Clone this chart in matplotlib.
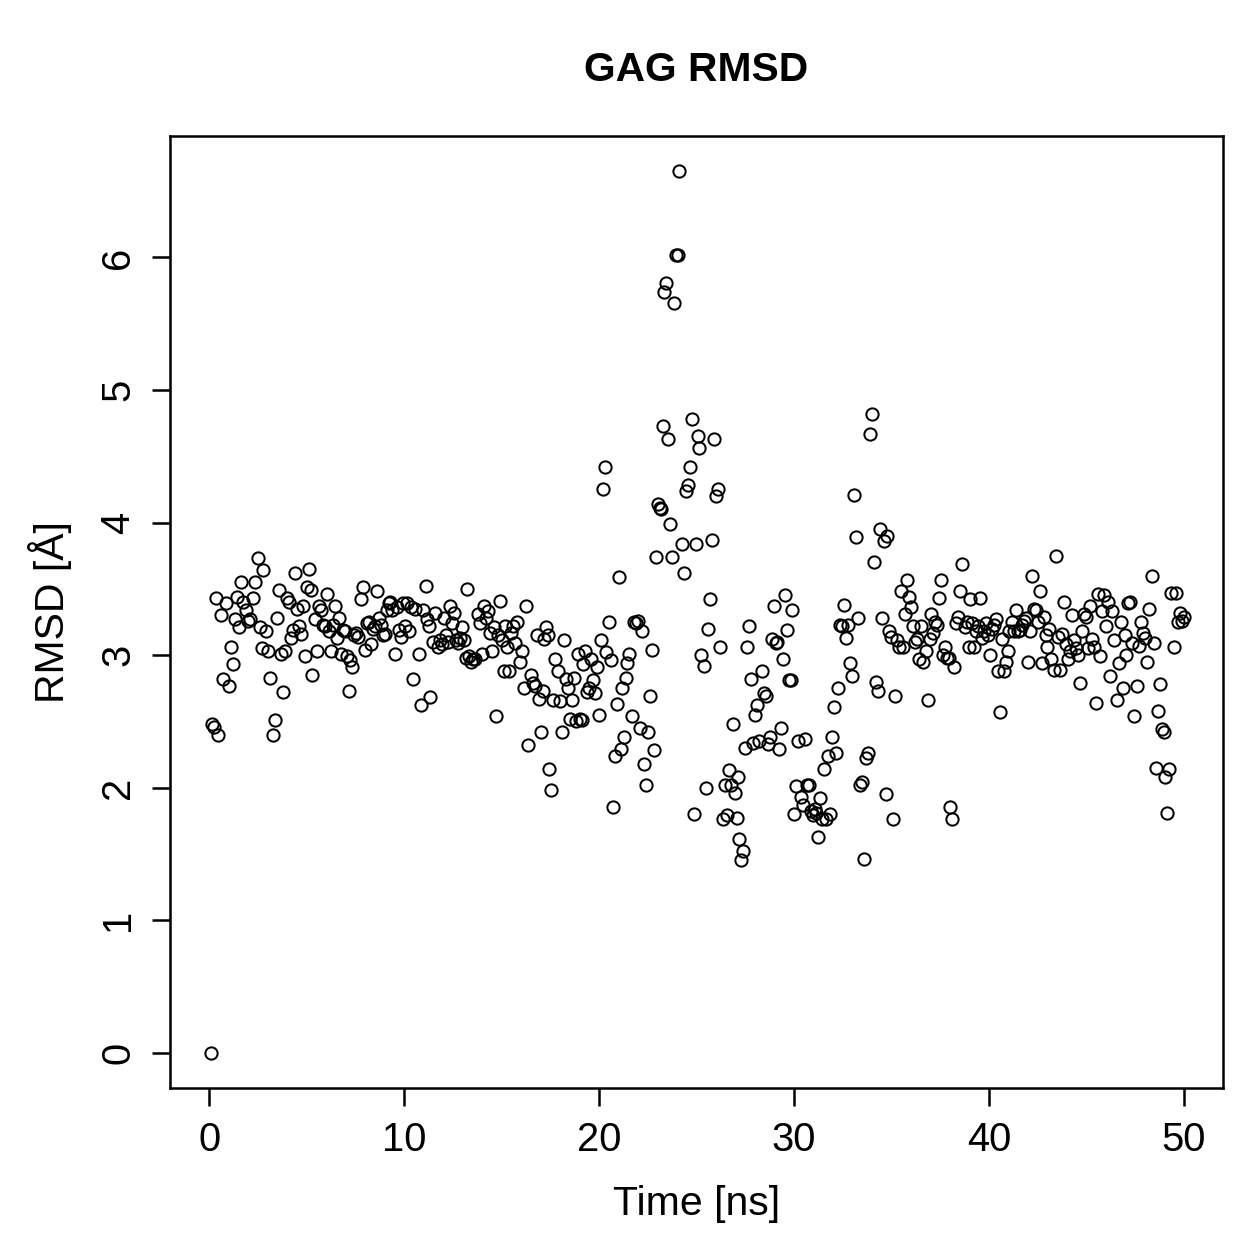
import matplotlib
matplotlib.use("Agg")
import matplotlib.pyplot as plt

time_ns = [0.1, 0.15, 0.25, 0.45, 0.35, 0.6, 0.7, 0.85, 1.0, 1.1, 1.2, 1.35, 1.45, 1.55, 1.65, 1.75, 1.9, 2.0, 2.1, 2.25,
           2.35, 2.5, 2.6, 2.7, 2.75, 2.9, 3.0, 3.1, 3.3, 3.4, 3.5, 3.6, 3.7, 3.8, 3.9, 4.0, 4.1, 4.2, 4.3, 4.4,
           4.5, 4.6, 4.7, 4.8, 4.9, 5.0, 5.1, 5.2, 5.3, 5.45, 5.55, 5.65, 5.75, 5.85, 5.95, 6.05, 6.15, 6.25, 6.35, 6.45,
           6.55, 6.65, 6.75, 6.85, 6.95, 7.05, 7.15, 7.25, 7.35, 7.45, 7.55, 7.65, 7.8, 7.9, 8.0, 8.1, 8.2, 8.3, 8.4, 8.5,
           8.6, 8.7, 8.8, 8.9, 9.0, 9.1, 9.2, 9.3, 9.4, 9.55, 9.65, 9.75, 9.85, 9.95, 10.05, 10.15, 10.25, 10.35, 10.45, 10.55,
           10.75, 10.85, 10.95, 11.1, 11.2, 11.3, 11.35, 11.5, 11.6, 11.75, 11.85, 11.95, 12.05, 12.15, 12.25, 12.35, 12.45, 12.55, 12.65, 12.75,
           12.85, 12.95, 13.05, 13.15, 13.25, 13.35, 13.45, 13.55, 13.65, 13.8, 13.9, 14.0, 14.1, 14.2, 14.3, 14.4, 14.5, 14.6, 14.7, 14.8,
           14.9, 15.0, 15.1, 15.2, 15.3, 15.4, 15.5, 15.6, 15.7, 15.8, 15.95, 16.05, 16.15, 16.25, 16.35, 16.5, 16.6, 16.7, 16.8, 16.9,
           17.0, 17.1, 17.2, 17.3, 17.4, 17.45, 17.55, 17.65, 17.75, 17.9, 18.0, 18.1, 18.2, 18.3, 18.4, 18.5, 18.6, 18.7, 18.8, 18.9,
           19.0, 19.1, 19.2, 19.3, 19.4, 19.5, 19.6, 19.7, 19.8, 19.9, 20.0, 20.1, 20.2, 20.3, 20.35, 20.5, 20.6, 20.7, 20.8, 20.9,
           21.0, 21.1, 21.2, 21.3, 21.4, 21.45, 21.55, 21.7, 21.8, 21.9, 22.0, 22.1, 22.2, 22.3, 22.4, 22.5, 22.6, 22.7, 22.8, 22.9,
           23.0, 23.1, 23.2, 23.3, 23.35, 23.45, 23.55, 23.65, 23.75, 23.85, 23.95, 24.05, 24.1, 24.25, 24.35, 24.45, 24.55, 24.65, 24.75, 24.85,
           24.95, 25.05, 25.15, 25.25, 25.4, 25.5, 25.6, 25.7, 25.8, 25.9, 26.0, 26.1, 26.2, 26.35, 26.45, 26.55, 26.65, 26.75, 26.85, 26.95,
           27.05, 27.15, 27.2, 27.3, 27.4, 27.5, 27.6, 27.7, 27.8, 27.9, 28.0, 28.1, 28.2, 28.35, 28.45, 28.55, 28.65, 28.75, 28.85, 28.95,
           29.05, 29.15, 29.25, 29.35, 29.45, 29.55, 29.65, 29.75, 29.85, 29.9, 30.0, 30.1, 30.2, 30.35, 30.45, 30.55, 30.65, 30.75, 30.85, 30.95,
           31.05, 31.15, 31.25, 31.35, 31.45, 31.55, 31.65, 31.75, 31.85, 31.95, 32.05, 32.15, 32.25, 32.35, 32.45, 32.55, 32.65, 32.75, 32.85, 32.95,
           33.1, 33.2, 33.3, 33.4, 33.5, 33.6, 33.7, 33.8, 33.9, 34.0, 34.1, 34.2, 34.3, 34.4, 34.5, 34.6, 34.7, 34.75, 34.85, 34.95,
           35.1, 35.2, 35.3, 35.4, 35.5, 35.6, 35.7, 35.8, 35.9, 36.0, 36.1, 36.2, 36.3, 36.4, 36.5, 36.6, 36.75, 36.85, 36.95, 37.05,
           37.15, 37.25, 37.35, 37.45, 37.55, 37.65, 37.75, 37.85, 37.95, 38.0, 38.1, 38.2, 38.3, 38.4, 38.5, 38.6, 38.75, 38.85, 38.95, 39.05,
           39.15, 39.25, 39.35, 39.45, 39.55, 39.65, 39.75, 39.85, 39.95, 40.05, 40.15, 40.25, 40.35, 40.45, 40.55, 40.65, 40.75, 40.85, 40.95, 41.05,
           41.2, 41.3, 41.4, 41.5, 41.6, 41.7, 41.8, 41.9, 42.0, 42.1, 42.2, 42.3, 42.4, 42.5, 42.6, 42.7, 42.8, 42.9, 43.0, 43.1,
           43.2, 43.35, 43.45, 43.55, 43.65, 43.75, 43.85, 43.95, 44.05, 44.15, 44.25, 44.35, 44.45, 44.55, 44.65, 44.75, 44.85, 44.95, 45.1, 45.2,
           45.3, 45.4, 45.5, 45.6, 45.7, 45.8, 45.9, 46.0, 46.1, 46.2, 46.3, 46.4, 46.55, 46.65, 46.75, 46.85, 46.95, 47.05, 47.15, 47.25,
           47.35, 47.45, 47.6, 47.7, 47.8, 47.9, 48.0, 48.1, 48.2, 48.35, 48.45, 48.55, 48.65, 48.75, 48.85, 48.95, 49.05, 49.15, 49.25, 49.35,
           49.5, 49.6, 49.7, 49.8, 49.9, 50.0]

rmsd = [0.0, 2.48, 2.46, 2.40, 3.43, 3.30, 2.82, 3.39, 2.77, 3.06, 2.93, 3.27, 3.44, 3.21, 3.55, 3.40, 3.34, 3.26, 3.27, 3.43,
        3.55, 3.73, 3.21, 3.05, 3.64, 3.18, 3.03, 2.83, 2.40, 2.51, 3.28, 3.49, 3.01, 2.72, 3.03, 3.43, 3.40, 3.13, 3.19, 3.62,
        3.35, 3.22, 3.16, 3.37, 2.99, 3.51, 3.65, 3.49, 2.85, 3.27, 3.03, 3.37, 3.34, 3.23, 3.22, 3.46, 3.18, 3.03, 3.23, 3.37,
        3.13, 3.28, 3.01, 3.19, 3.18, 2.99, 2.73, 2.96, 2.91, 3.15, 3.17, 3.14, 3.42, 3.51, 3.04, 3.24, 3.25, 3.08, 3.20, 3.22,
        3.48, 3.28, 3.23, 3.15, 3.16, 3.34, 3.39, 3.40, 3.34, 3.01, 3.36, 3.19, 3.14, 3.39, 3.22, 3.39, 3.18, 3.36, 2.82, 3.35,
        3.01, 2.62, 3.34, 3.52, 3.27, 3.22, 2.68, 3.10, 3.32, 3.06, 3.11, 3.08, 3.28, 3.15, 3.10, 3.37, 3.24, 3.32, 3.11, 3.09,
        3.13, 3.21, 3.11, 2.98, 3.50, 2.99, 2.95, 2.97, 2.97, 3.31, 3.24, 3.01, 3.37, 3.28, 3.33, 3.17, 3.03, 3.21, 2.54, 3.15,
        3.41, 3.11, 2.88, 3.22, 3.06, 2.88, 3.17, 3.22, 3.09, 3.25, 2.95, 3.03, 2.75, 3.37, 2.32, 2.85, 2.79, 2.77, 3.15, 2.67,
        2.42, 2.73, 3.12, 3.21, 3.15, 2.14, 1.98, 2.66, 2.97, 2.88, 2.65, 2.42, 3.11, 2.82, 2.75, 2.52, 2.66, 2.83, 2.50, 3.01,
        2.52, 2.51, 2.93, 3.03, 2.72, 2.75, 2.97, 2.81, 2.71, 2.91, 2.55, 3.11, 4.25, 4.42, 3.02, 3.25, 2.96, 1.85, 2.24, 2.63,
        3.59, 2.29, 2.75, 2.38, 2.83, 2.94, 3.01, 2.54, 3.25, 3.24, 3.26, 2.45, 3.18, 2.18, 2.02, 2.42, 2.69, 3.04, 2.28, 3.74,
        4.14, 4.11, 4.10, 4.73, 5.74, 5.81, 4.63, 3.99, 3.74, 5.66, 6.02, 6.02, 6.65, 3.84, 3.62, 4.24, 4.28, 4.42, 4.78, 1.80,
        3.84, 4.65, 4.56, 3.00, 2.92, 2.00, 3.20, 3.42, 3.87, 4.63, 4.20, 4.25, 3.06, 1.76, 2.02, 1.79, 2.13, 2.02, 2.48, 1.96,
        1.77, 2.08, 1.61, 1.45, 1.52, 2.30, 3.06, 3.22, 2.82, 2.34, 2.55, 2.62, 2.35, 2.88, 2.71, 2.69, 2.33, 2.38, 3.12, 3.37,
        3.09, 3.10, 2.29, 2.45, 2.97, 3.45, 3.19, 2.81, 2.81, 3.34, 1.80, 2.01, 2.35, 1.93, 1.87, 2.37, 2.02, 2.02, 1.82, 1.79,
        1.84, 1.81, 1.63, 1.92, 1.76, 2.14, 1.76, 2.24, 1.80, 2.38, 2.61, 2.26, 2.75, 3.23, 3.22, 3.38, 3.13, 3.23, 2.94, 2.84,
        4.21, 3.89, 3.28, 2.02, 2.04, 1.46, 2.22, 2.26, 4.67, 4.82, 3.70, 2.80, 2.73, 3.95, 3.28, 3.86, 1.95, 3.90, 3.18, 3.14,
        1.76, 2.69, 3.11, 3.06, 3.48, 3.06, 3.31, 3.57, 3.44, 3.36, 3.22, 3.10, 3.12, 2.97, 3.22, 2.95, 3.03, 2.66, 3.12, 3.31,
        3.17, 3.25, 3.23, 3.43, 3.57, 3.00, 3.06, 2.98, 2.98, 1.85, 1.76, 2.91, 3.24, 3.29, 3.48, 3.69, 3.21, 3.25, 3.06, 3.42,
        3.24, 3.06, 3.18, 3.22, 3.43, 3.13, 3.18, 3.24, 3.15, 3.00, 3.20, 3.23, 3.27, 2.88, 2.57, 3.12, 2.88, 2.95, 3.03, 3.18,
        3.25, 3.18, 3.34, 3.18, 3.19, 3.23, 3.26, 3.28, 2.95, 3.18, 3.60, 3.35, 3.34, 3.25, 3.48, 2.94, 3.29, 3.15, 3.06, 3.20,
        2.97, 2.89, 3.75, 3.14, 2.89, 3.16, 3.40, 3.08, 2.97, 3.03, 3.30, 3.11, 3.05, 3.00, 2.79, 3.18, 3.31, 3.29, 3.05, 3.37,
        3.12, 3.06, 2.64, 3.46, 2.99, 3.33, 3.45, 3.22, 3.40, 2.84, 3.33, 3.11, 2.66, 2.94, 3.25, 2.75, 3.15, 3.00, 3.39, 3.40,
        3.09, 2.54, 2.77, 3.07, 3.25, 3.17, 3.13, 2.95, 3.35, 3.60, 3.09, 2.15, 2.58, 2.78, 2.44, 2.42, 2.08, 1.81, 2.14, 3.47,
        3.06, 3.47, 3.25, 3.32, 3.26, 3.29]

x_ticks = [0, 10, 20, 30, 40, 50]
y_ticks = [0, 1, 2, 3, 4, 5, 6]
title = "GAG RMSD"
x_label = "Time [ns]"
y_label = "RMSD [Å]"

plt.rcParams['font.family'] = ['Liberation Sans', 'DejaVu Sans']

W = 1259.0
fig = plt.figure(figsize=(7, 7), dpi=180)
ax = fig.add_axes([170/W, 1 - 1087/W, (1222-170)/W, (1087-136)/W])

ax.plot(time_ns, rmsd, linestyle='none', marker='o', markersize=4.9,
        markerfacecolor='none', markeredgecolor='black', markeredgewidth=0.8)

ymin, ymax = min(rmsd), max(rmsd)
dx = (50 - 0) * 0.04
dy = (ymax - ymin) * 0.04
ax.set_xlim(0 - dx, 50 + dx)
ax.set_ylim(ymin - dy, ymax + dy)

ax.set_xticks(x_ticks)
ax.set_yticks(y_ticks)
ax.set_xticklabels([str(t) for t in x_ticks])
ax.set_yticklabels([str(t) for t in y_ticks], rotation=90, va='center')
ax.tick_params(axis='both', direction='out', length=7.2, width=1.0, labelsize=16, color='black')
ax.tick_params(axis='x', pad=6)
ax.tick_params(axis='y', pad=6)
for s in ax.spines.values():
    s.set_linewidth(1.0)

ax.set_xlabel(x_label, fontsize=16.4, va='center', ha='center')
ax.xaxis.set_label_coords(0.5, (1087 - 1203) / (1087 - 136))
ax.set_ylabel(y_label, fontsize=16.4, va='center', ha='center')
ax.yaxis.set_label_coords((50 - 170) / (1222 - 170), 0.5)
fig.text((170 + 1222) / 2 / W, 1 - 70/W, title, fontsize=16.3, fontweight='bold',
         ha='center', va='center')

fig.savefig("out.png", dpi=180)
